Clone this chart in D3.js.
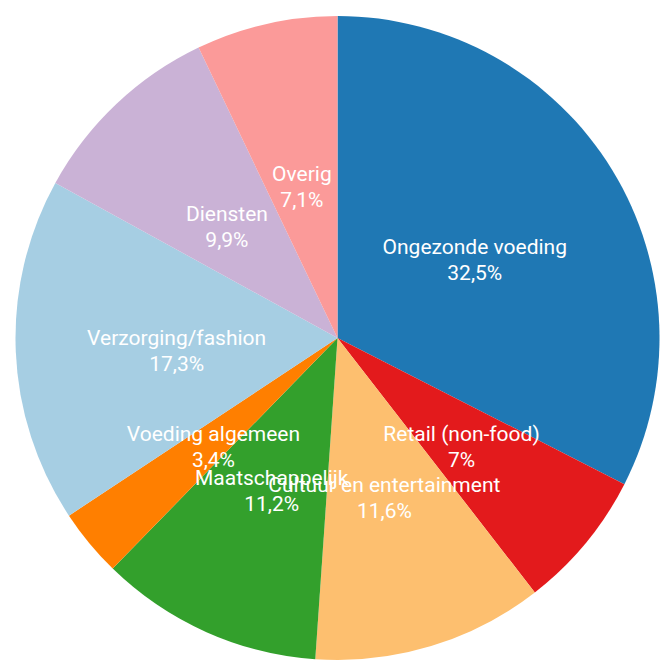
<!DOCTYPE html>
<html>
<head>
<meta charset="utf-8">
<script src="https://cdn.jsdelivr.net/npm/d3@7"></script>
<style>
  html, body { margin: 0; padding: 0; background: #fff; }
  svg { display: block; }
</style>
</head>
<body>
<div id="chart"></div>
<script>
"use strict";

// categories, shares (percent) and the label text as shown
let categories = ["Ongezonde voeding", "Retail (non-food)", "Cultuur en entertainment",
  "Maatschappelijk", "Voeding algemeen", "Verzorging/fashion", "Diensten", "Overig"];
let shares = [32.5, 7, 11.6, 11.2, 3.4, 17.3, 9.9, 7.1];
let shareLabels = ["32,5%", "7%", "11,6%", "11,2%", "3,4%", "17,3%", "9,9%", "7,1%"];
let colors = ["#1f78b4", "#e31a1c", "#fdbf6f", "#33a02c", "#ff7f00", "#a6cee3", "#cab2d6", "#fb9a99"];

let width = 670, height = 664;
let cx = 337.5, cy = 338, radius = 322;

let data = categories.map(function(c, i){
  return {name: c, value: shares[i], label: shareLabels[i]};
});

let svg = d3.select("#chart")
.append("svg")
.attr("width", width)
.attr("height", height);

let color = d3.scaleOrdinal()
.domain(categories)
.range(colors);

let pie = d3.pie()
.sort(null)
.value(function(d){ return d.value; });

let arc = d3.arc()
.innerRadius(0)
.outerRadius(radius);

let g = svg.append("g")
.attr("transform", "translate(" + cx + "," + cy + ")");

let arcs = pie(data);

// slices
g.selectAll("path")
.data(arcs)
.join("path")
.attr("d", arc)
.attr("fill", function(d){ return color(d.data.name); });

// labels at the arc centroid, two lines
let labels = g.selectAll("text.label")
.data(arcs)
.join("text")
.attr("class", "label")
.attr("transform", function(d){ return "translate(" + arc.centroid(d) + ")"; })
.attr("text-anchor", "middle")
.attr("font-family", "Roboto, sans-serif")
.attr("font-size", 21)
.attr("fill", "#fff");

labels.append("tspan")
.attr("x", 0)
.attr("dy", 0)
.text(function(d){ return d.data.name; });

labels.append("tspan")
.attr("x", 0)
.attr("dy", "1.25em")
.text(function(d){ return d.data.label; });
</script>
</body>
</html>
